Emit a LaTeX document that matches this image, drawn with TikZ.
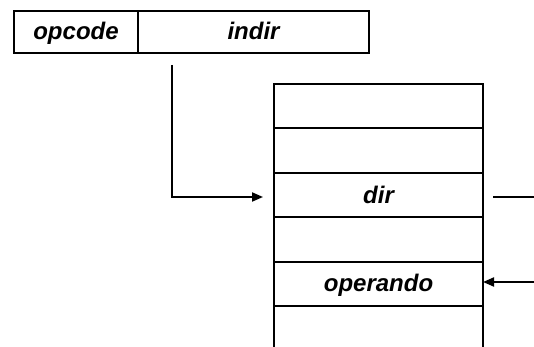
\documentclass[tikz,border=0pt]{standalone}
\usepackage{fontspec}
\setmainfont{Liberation Sans}
\usetikzlibrary{arrows.meta}

\tikzset{
    feld/.style={draw, line width=2pt, minimum height=42pt, inner sep=0pt, outer sep=0pt,
        text height=19pt, text depth=3pt,
        font=\fontsize{24}{28}\selectfont\bfseries\itshape},
    zelle/.style={draw, line width=2pt, minimum width=209pt, minimum height=44.4pt,
        inner sep=0pt, outer sep=0pt, text height=19pt, text depth=3pt,
        font=\fontsize{24}{28}\selectfont\bfseries\itshape},
    zeiger/.style={line width=2pt, -{Triangle[length=11pt,width=9pt]}}
}

\begin{document}
\begin{tikzpicture}[x=1pt, y=-1pt]
        \useasboundingbox (0,0) rectangle (534,347);

        % zeichne Befehlswort
        \node[feld, minimum width=124pt] (opcode) at (76,32) {opcode};
        \node[feld, minimum width=231pt] (indir) at (253.5,32) {indir};

        % zeichne Speicher
        \node[zelle] (m0) at (378.5,106.2) {};
        \node[zelle] (m1) at (378.5,150.6) {};
        \node[zelle] (dir) at (378.5,195) {dir};
        \node[zelle] (m3) at (378.5,239.4) {};
        \node[zelle] (operando) at (378.5,283.8) {operando};
        \draw[line width=2pt] (operando.south west) -- (274,347);
        \draw[line width=2pt] (operando.south east) -- (483,347);

        % zeichne Zeiger
        \coordinate (start) at (172,65);
        \coordinate (knick) at (172,197);
        \draw[zeiger] (start) -- (knick) -- (263,197);

        \coordinate (aus) at (493,197);
        \coordinate (ein) at (534,282);
        \draw[line width=2pt] (aus) -- (534,197);
        \draw[zeiger] (ein) -- (operando.east |- ein);
    \end{tikzpicture}
\end{document}
